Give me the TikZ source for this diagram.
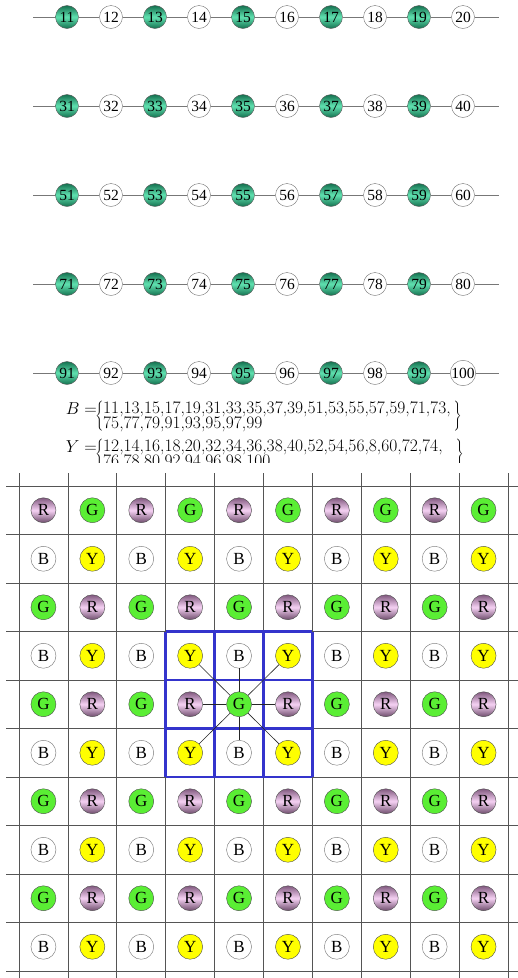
\documentclass[tikz,border=0pt]{standalone}
\usepackage{fontspec}
\newfontfamily\tnr{Liberation Serif}
\newcommand\tightlines{\lineskiplimit=-30pt\relax\lineskip=0pt\relax}
\definecolor{tealD}{HTML}{14704F}
\definecolor{tealL}{HTML}{60E2B0}
\definecolor{rD}{HTML}{80587E}
\definecolor{rL}{HTML}{F6D2F4}
\definecolor{gF}{HTML}{5AEE34}
\definecolor{yF}{HTML}{FFFF00}
\definecolor{bl}{HTML}{3434CC}
\definecolor{gl}{HTML}{555555}
\begin{document}
\begin{tikzpicture}[x=1pt,y=-1pt,
  numfont/.style={font=\tnr\fontsize{15.5}{15.5}\selectfont},
  tball/.style={circle,inner sep=0pt,minimum size=23pt,draw=black!65,top color=tealD,bottom color=tealD,middle color=tealL,numfont},
  wball/.style={circle,inner sep=0pt,minimum size=23pt,draw=black!55,fill=white,numfont},
  conn/.style={draw=gl!80,line width=0.8pt},
  letfont/.style={font=\tnr\fontsize{17}{17}\selectfont},
  cellR/.style={circle,inner sep=0pt,minimum size=25pt,draw=black!70,top color=rD,bottom color=rD!85!black,middle color=rL,letfont},
  cellG/.style={circle,inner sep=0pt,minimum size=25pt,draw=black!70,fill=gF,letfont},
  cellB/.style={circle,inner sep=0pt,minimum size=25pt,draw=black!55,fill=white,letfont},
  cellY/.style={circle,inner sep=0pt,minimum size=25pt,draw=black!70,fill=yF,letfont},
  gridline/.style={draw=gl,line width=0.8pt},
  blueline/.style={draw=bl,line width=2.6pt},
  spoke/.style={draw=black!85,line width=0.6pt},
  settext/.style={inner sep=0pt,font=\fontsize{17.5}{17.5}\selectfont},
  setlines/.style={inner sep=0pt,anchor=north west,align=left,
     font={\fontsize{17.5}{14.5}\selectfont\tightlines}}]
\useasboundingbox[fill=white] (0,0) rectangle (518,978);
% ---------- top chains ----------
\foreach \b [count=\r from 0] in {10,30,50,70,90}{
  \pgfmathsetmacro\yy{17+89*\r}
  \coordinate (L\r) at (33,\yy);
  \coordinate (R\r) at (499,\yy);
  \foreach \i in {1,...,10}{
    \pgfmathtruncatemacro\n{\b+\i}
    \pgfmathsetmacro\xx{67+44*(\i-1)}
    \ifodd\i \node[tball] (t\n) at (\xx,\yy) {\n};
    \else \node[wball] (t\n) at (\xx,\yy) {\n};\fi
  }
  \pgfmathtruncatemacro\f{\b+1}
  \pgfmathtruncatemacro\l{\b+10}
  \draw[conn] (L\r) -- (t\f);
  \draw[conn] (t\l) -- (R\r);
  \foreach \i in {1,...,9}{
    \pgfmathtruncatemacro\p{\b+\i}
    \pgfmathtruncatemacro\q{\b+\i+1}
    \draw[conn] (t\p) -- (t\q);
  }
}
% ---------- sets ----------
\node[settext,anchor=base east] (Blab) at (97,414) {$B=$};
\node[settext] (Blb) at (100,416) {$\left\{\rule[-9pt]{0pt}{27pt}\right.$};
\node[setlines] (Bset) at (103,401.7) {11,13,15,17,19,31,33,35,37,39,51,53,55,57,59,71,73,\\75,77,79,91,93,95,97,99};
\node[settext] (Brb) at (457,416) {$\left.\rule[-9pt]{0pt}{27pt}\right\}$};
\node[settext,anchor=base east] (Ylab) at (97,452) {$Y=$};
\node[settext] (Ylb) at (100,454) {$\left\{\rule[-9pt]{0pt}{27pt}\right.$};
\node[setlines] (Yset) at (103,439.7) {12,14,16,18,20,32,34,36,38,40,52,54,56,8,60,72,74,\\76,78,80,92,94,96,98,100};
\node[settext] (Yrb) at (459,454) {$\left.\rule[-9pt]{0pt}{27pt}\right\}$};
% ---------- grid ----------
\fill[white] (0,463) rectangle (518,978);
\foreach \k in {0,...,10}{
  \draw[gridline] ({19+48.9*\k},473) -- ({19+48.9*\k},978);
  \draw[gridline] (6,{486+48.5*\k}) -- (518,{486+48.5*\k});
}
\foreach \k in {0,...,3}{
  \draw[blueline] ({165.7+48.9*\k},631.5) -- ({165.7+48.9*\k},777.0);
  \draw[blueline] (165.7,{631.5+48.5*\k}) -- (312.4,{631.5+48.5*\k});
}
\foreach \r in {1,...,10}{
  \foreach \c in {1,...,10}{
    \pgfmathsetmacro\xx{43.45+48.9*(\c-1)}
    \pgfmathsetmacro\yy{510.25+48.5*(\r-1)}
    \ifodd\r
      \ifnum\r=1 \ifodd\c\def\L{R}\else\def\L{G}\fi
      \else \ifodd\c\def\L{G}\else\def\L{R}\fi\fi
    \else \ifodd\c\def\L{B}\else\def\L{Y}\fi\fi
    \node[cell\L] (g-\r-\c) at (\xx,\yy) {\L};
  }
}
\foreach \r/\c in {4/4,4/5,4/6,5/4,5/6,6/4,6/5,6/6}{
  \draw[spoke] (g-5-5) -- (g-\r-\c);
}
\end{tikzpicture}
\end{document}
